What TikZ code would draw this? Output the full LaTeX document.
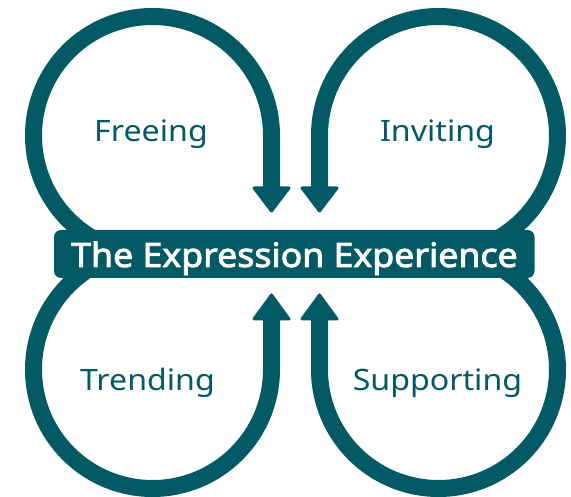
\documentclass[tikz,border=0pt]{standalone}
\usepackage{fontspec}
\setmainfont[FakeStretch=1.09]{Noto Sans}
\newfontfamily\titlefont[FakeBold=2.5,FakeStretch=1.065]{Noto Sans}
\definecolor{teal1}{HTML}{035A64}
\tikzset{loopline/.style={draw=teal1,line width=17pt},
 tiphead/.style={fill=teal1,draw=teal1,line width=3pt,line join=round},
 lab/.style={text=teal1,font=\fontsize{29.5pt}{32pt}\selectfont,anchor=base}}
\begin{document}
\begin{tikzpicture}[x=1pt,y=-1pt]
\useasboundingbox (0,0) rectangle (571,497);
\fill[white] (0,0) rectangle (571,497);
\draw[loopline] (271.5,190) -- (271.5,135.5) arc[start angle=0,end angle=-241,radius=119];
\draw[loopline] (319.5,190) -- (319.5,135.5) arc[start angle=180,end angle=421,radius=119];
\draw[loopline] (271.5,318) -- (271.5,369.5) arc[start angle=0,end angle=241,radius=119];
\draw[loopline] (319.5,318) -- (319.5,369.5) arc[start angle=180,end angle=-61,radius=119];
\fill[tiphead] (254,188) -- (289,188) -- (271.5,211) -- cycle;
\fill[tiphead] (302,188) -- (337,188) -- (319.5,211) -- cycle;
\fill[tiphead] (254,319) -- (289,319) -- (271.5,295) -- cycle;
\fill[tiphead] (302,319) -- (337,319) -- (319.5,295) -- cycle;
\fill[teal1,rounded corners=7pt] (54,230) rectangle (534.5,278);
\node[text=white,font=\fontsize{33.5pt}{36pt}\selectfont\titlefont,anchor=base] (title) at (294.5,267) {The Expression Experience};
\node[lab] (a) at (151,142) {Freeing};
\node[lab] (b) at (437.5,142) {Inviting};
\node[lab] (c) at (147.5,391) {Trending};
\node[lab] (d) at (437.5,391) {Supporting};
\end{tikzpicture}
\end{document}
